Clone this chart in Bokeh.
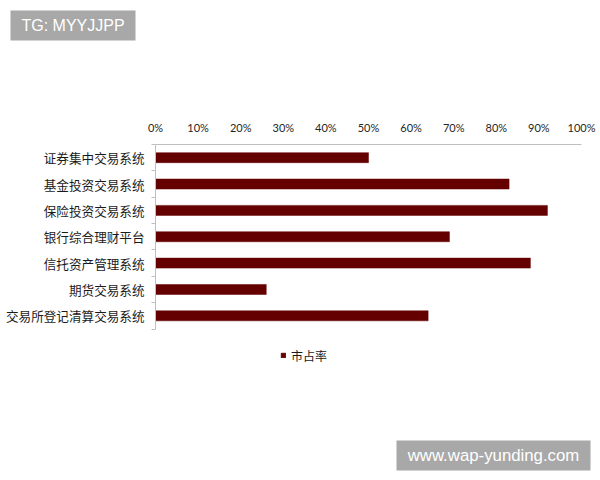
from bokeh.plotting import figure
from bokeh.models import (Range1d, LinearAxis, FixedTicker, NumeralTickFormatter, Legend,
                          LegendItem, Label, BoxAnnotation, ColumnDataSource)
from bokeh.embed import file_html
from bokeh.resources import INLINE

# ---- data ----
categories = ["证券集中交易系统", "基金投资交易系统", "保险投资交易系统", "银行综合理财平台",
              "信托资产管理系统", "期货交易系统", "交易所登记清算交易系统"]
share = [0.50, 0.83, 0.92, 0.69, 0.88, 0.26, 0.64]
series_name = "市占率"
x_ticks = [0.0, 0.1, 0.2, 0.3, 0.4, 0.5, 0.6, 0.7, 0.8, 0.9, 1.0]
watermark_top = "TG: MYYJJPP"
watermark_bottom = "www.wap-yunding.com"

# ---- layout / style ----
W, H = 600, 480
X0_PX, X1_PX = 155, 581        # canvas px of 0% and 100%
TOP_PX, BOT_PX = 144, 328.5    # canvas px of category area top / bottom
BAR = "#640000"
AXIS = "#bfbfbf"
WM_FILL = "#a8a8a8"
CJK = "Noto Sans CJK SC"

n = len(categories)
slot = [n - i - 0.5 for i in range(n)]      # first category on top
src = ColumnDataSource(dict(cat=categories, y=slot, share=share))

xu = X1_PX - X0_PX
yu = (BOT_PX - TOP_PX) / n
p = figure(width=W, height=H, output_backend="svg", toolbar_location=None,
           title_location=None, x_axis_location=None, y_axis_location=None,
           x_range=Range1d(-X0_PX / xu, (W - X0_PX) / xu),
           y_range=Range1d(-(H - BOT_PX) / yu, n + TOP_PX / yu),
           min_border=0, background_fill_color="white", border_fill_color="white")
p.outline_line_color = None
p.grid.visible = False

r = p.hbar(y="y", left=0, right="share", height=0.38, source=src,
           fill_color=BAR, line_color=BAR, line_width=0.5)

# top percentage axis
xa = LinearAxis(fixed_location=n, bounds=(0, 1), ticker=FixedTicker(ticks=x_ticks),
                formatter=NumeralTickFormatter(format="0%"),
                axis_line_color=AXIS, major_tick_in=0, major_tick_out=0,
                minor_tick_in=0, minor_tick_out=0, major_label_standoff=11,
                major_label_text_font="Lato", major_label_text_font_size="11px",
                major_label_text_color="#262626")
p.add_layout(xa, "above")

# left axis: line + tick marks at category boundaries
edge_ticks = list(range(n + 1))
tick_axis = LinearAxis(fixed_location=0, bounds=(0, n), ticker=FixedTicker(ticks=edge_ticks),
                       major_label_overrides={i: "" for i in edge_ticks},
                       major_label_text_font_size="0px", major_label_standoff=0,
                       major_tick_in=0, major_tick_out=4, minor_tick_in=0, minor_tick_out=0,
                       axis_line_color=AXIS, major_tick_line_color=AXIS)
# left axis: category names at slot centres
cat_axis = LinearAxis(fixed_location=0, ticker=FixedTicker(ticks=slot),
                      major_label_overrides={s: c for s, c in zip(slot, categories)},
                      axis_line_color=None, major_tick_line_color=None,
                      minor_tick_line_color=None,
                      major_tick_in=0, major_tick_out=0, minor_tick_in=0, minor_tick_out=0,
                      major_label_standoff=11,
                      major_label_text_font=CJK, major_label_text_font_size="12.6px",
                      major_label_text_color="#1a1a1a")
p.add_layout(tick_axis, "left")
p.add_layout(cat_axis, "left")

legend = Legend(items=[LegendItem(label=series_name, renderers=[r])], location=(280, 116.5),
                orientation="horizontal", padding=0, margin=0, spacing=0,
                border_line_color=None, background_fill_alpha=0,
                glyph_width=6, glyph_height=6, label_standoff=5, label_height=12,
                label_text_font=CJK, label_text_font_size="12px", label_text_color="#1a1a1a")
p.add_layout(legend, "center")

# watermark boxes (screen px measured from the bottom-left corner)
for (l, rgt, top, bot), txt, fs in [((10, 135, 10, 40), watermark_top, "16px"),
                                      ((396, 590, 440, 470), watermark_bottom, "16.8px")]:
    p.add_layout(BoxAnnotation(left=l, right=rgt, top=H - top, bottom=H - bot,
                               left_units="screen", right_units="screen",
                               top_units="screen", bottom_units="screen",
                               fill_color=WM_FILL, fill_alpha=1, line_color=None))
    p.add_layout(Label(x=(l + rgt) / 2, y=H - (top + bot) / 2, x_units="screen",
                       y_units="screen", text=txt, text_align="center",
                       text_baseline="middle", text_color="white",
                       text_font="Liberation Sans", text_font_size=fs))

open("out.html", "w").write(file_html(p, INLINE))
